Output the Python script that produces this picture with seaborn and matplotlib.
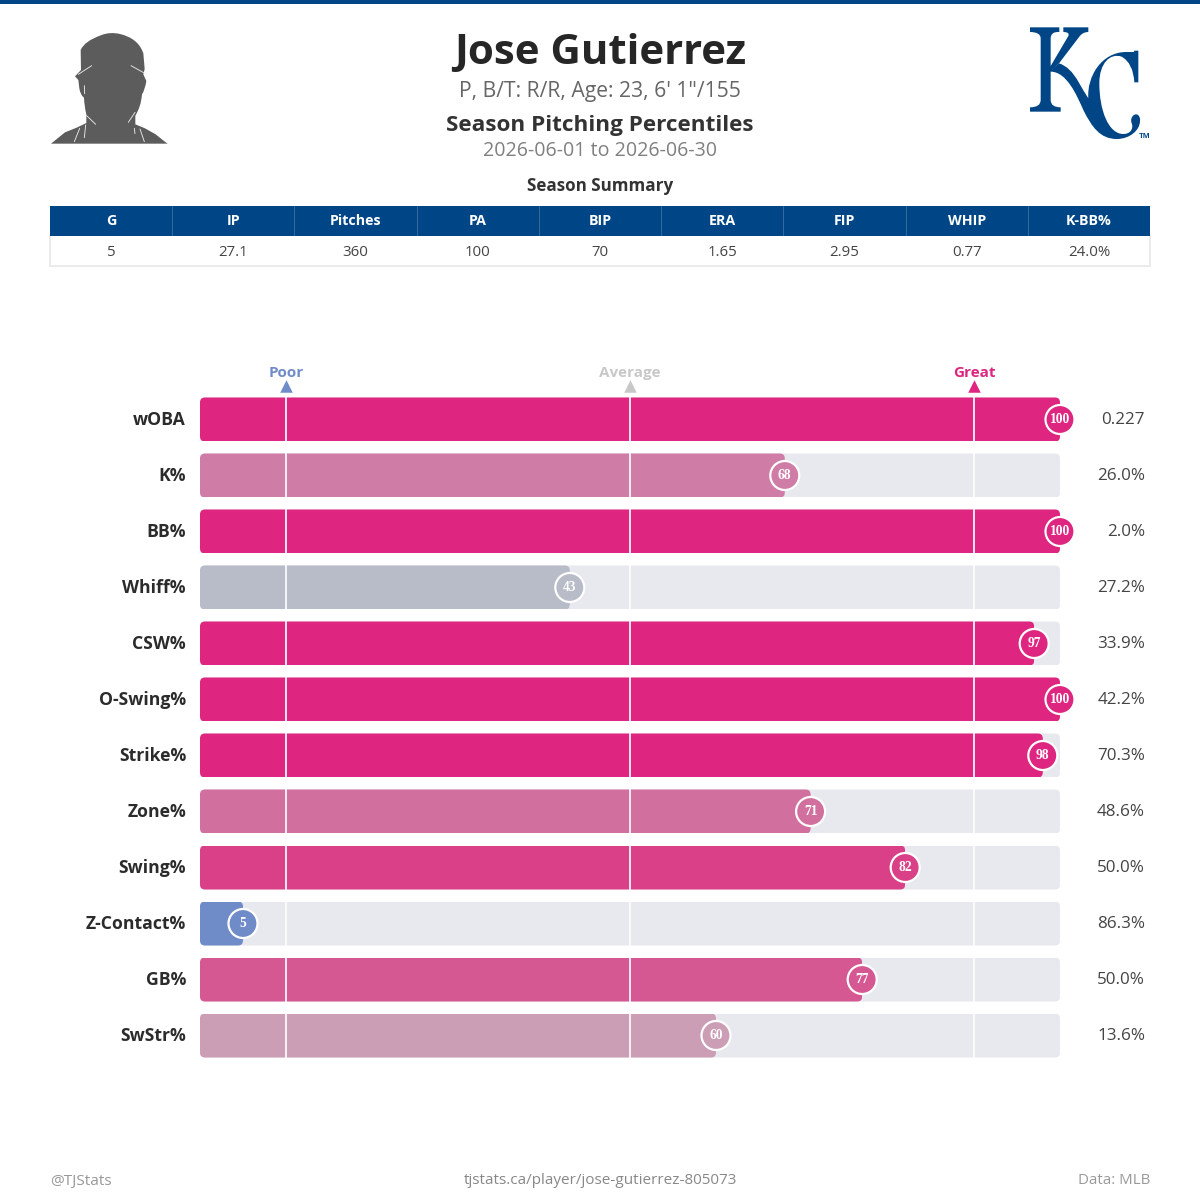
import matplotlib
matplotlib.use("Agg")
import matplotlib.pyplot as plt
import pandas as pd
import seaborn as sns
from matplotlib.patches import FancyBboxPatch, PathPatch, Rectangle
from matplotlib.path import Path
from matplotlib.transforms import IdentityTransform, ScaledTranslation

# Percentile rows
metrics = ["wOBA", "K%", "BB%", "Whiff%", "CSW%", "O-Swing%", "Strike%",
           "Zone%", "Swing%", "Z-Contact%", "GB%", "SwStr%"]
percentiles = [100, 68, 100, 43, 97, 100, 98, 71, 82, 5, 77, 60]
stat_values = ["0.227", "26.0%", "2.0%", "27.2%", "33.9%", "42.2%", "70.3%",
               "48.6%", "50.0%", "86.3%", "50.0%", "13.6%"]
bar_colors = ["#DE2680", "#CF7DA6", "#DE2680", "#B8BCC8", "#DE2680", "#DE2680",
              "#DE2680", "#D1709E", "#D94088", "#6F8CC8", "#D65893", "#CB9EB5"]

# Season summary table
summary_heads = ["G", "IP", "Pitches", "PA", "BIP", "ERA", "FIP", "WHIP", "K-BB%"]
summary_cells = ["5", "27.1", "360", "100", "70", "1.65", "2.95", "0.77", "24.0%"]

# Reference marks above the bars
guide_names = ["Poor", "Average", "Great"]
guide_levels = [10, 50, 90]
guide_colors = ["#6F8CC8", "#C8C8C8", "#DE2680"]

ROYAL = "#004687"
SANS = "Open Sans"
W = H = 1200


def px(size):
    return size * 0.72


sns.set_theme(style="white")
plt.rcParams["font.family"] = [SANS, "DejaVu Sans"]

fig = plt.figure(figsize=(12, 12), dpi=100, facecolor="white")

# Full-page layer in pixel units for header, table, logo and footer
page = fig.add_axes([0, 0, 1, 1], zorder=0)
page.set_xlim(0, W)
page.set_ylim(H, 0)
page.axis("off")

# Percentile axes: 0-100 spans the track, one category per 56 px row
top, row_h = 391.5, 56
ax = fig.add_axes([200 / W, 1 - (top + row_h * 12) / H, 860 / W, row_h * 12 / H], zorder=1)
ax.patch.set_alpha(0)

frame = pd.DataFrame({"metric": metrics, "pct": percentiles, "track": [100] * len(metrics)})
sns.barplot(data=frame, y="metric", x="track", color="#E8E9EF", width=44 / 56,
            saturation=1, ax=ax, zorder=1)
sns.barplot(data=frame, y="metric", x="pct", hue="metric", palette=bar_colors,
            width=44 / 56, saturation=1, legend=False, ax=ax, zorder=2)
ax.set_xlim(0, 100)
ax.set_ylim(len(metrics) - 0.5, -0.5)
ax.set_xlabel("")
ax.set_ylabel("")
ax.set_xticks([])
sns.despine(ax=ax, left=True, bottom=True)

# Round the corners of every bar
for bar in ax.patches:
    ext = bar.get_window_extent()
    clip = FancyBboxPatch((ext.x0, ext.y0), ext.width, ext.height,
                          boxstyle="round,pad=0,rounding_size=5",
                          transform=IdentityTransform())
    bar.set_edgecolor("none")
    bar.set_clip_path(clip)

ax.tick_params(axis="y", length=0, pad=px(14))
label_shift = ScaledTranslation(0, px(1.5) / 72, fig.dpi_scale_trans)
for tick in ax.get_yticklabels():
    tick.set(fontsize=px(17.6), fontweight="bold", color="#2B2B2B", family=SANS)
    tick.set_transform(tick.get_transform() + label_shift)

# White guides crossing all rows
for level in guide_levels:
    ax.plot([level, level], [-0.393, len(metrics) - 1 + 0.393], color="white",
            lw=px(2), alpha=0.85, zorder=3, solid_capstyle="butt")


def row_at(y_px):
    return (y_px - (top + row_h / 2)) / row_h


for name, level, col in zip(guide_names, guide_levels, guide_colors):
    ax.scatter([level], [row_at(385.8)], marker="^", s=px(12.5) ** 2, color=col,
               linewidths=0, clip_on=False, zorder=3)
    ax.text(level, row_at(373), name, color=col, fontsize=px(15.2), fontweight="bold",
            ha="center", va="center", clip_on=False)

# Percentile badges at the end of each bar
sns.scatterplot(data=frame, x="pct", y="metric", hue="metric", palette=bar_colors,
                s=px(29) ** 2, edgecolor="white", linewidth=px(2.2), legend=False,
                clip_on=False, ax=ax, zorder=4)
ax.set_xlabel("")
ax.set_ylabel("")
for i, pct in enumerate(percentiles):
    ax.text(pct, i, str(pct), color="white", fontsize=px(13.5), fontweight="bold",
            family="Liberation Serif", ha="center", va="center", zorder=5, clip_on=False)
    ax.annotate(stat_values[i], xy=(100, i), xytext=(px(85), px(-0.7)), textcoords="offset points",
                color="#444444", fontsize=px(17), ha="right", va="center", annotation_clip=False)

# Top stripe
page.add_patch(Rectangle((0, 0), W, 4, color=ROYAL, lw=0))

# Header text
page.text(600, 54, "Jose Gutierrez", fontsize=px(42), fontweight="bold", color="#262626",
          ha="center", va="center")
page.text(600, 92, "P, B/T: R/R, Age: 23, 6' 1\"/155", fontsize=px(21.2), color="#666666",
          ha="center", va="center")
page.text(600, 125, "Season Pitching Percentiles", fontsize=px(22.5), fontweight="bold",
          color="#333333", ha="center", va="center")
page.text(600, 151, "2026-06-01 to 2026-06-30", fontsize=px(19.6), color="#808080",
          ha="center", va="center")
page.text(600, 186, "Season Summary", fontsize=px(17), fontweight="bold", color="#333333",
          ha="center", va="center")

# Summary table
tx0, tx1 = 50, 1150
col_w = (tx1 - tx0) / len(summary_heads)
page.add_patch(Rectangle((tx0, 235), tx1 - tx0, 31, facecolor="white", edgecolor="#EBEBEB", lw=px(2)))
page.add_patch(Rectangle((tx0, 206), tx1 - tx0, 29.5, color=ROYAL, lw=0))
for i, (head, cell) in enumerate(zip(summary_heads, summary_cells)):
    cx = tx0 + col_w * (i + 0.5)
    page.text(cx, 221, head, color="white", fontsize=px(14.2), fontweight="bold",
              ha="center", va="center")
    page.text(cx, 252, cell, color="#444444", fontsize=px(15), ha="center", va="center")
    if i:
        page.plot([tx0 + col_w * i] * 2, [206, 235], color="#33699C", lw=px(1))


def zoom_path(ops, ox, oy):
    """Build a Path from outline commands given at 3x scale around an origin."""
    verts, codes = [], []
    lookup = {"M": [Path.MOVETO], "L": [Path.LINETO], "Q": [Path.CURVE3] * 2,
              "C": [Path.CURVE4] * 3}
    for op, *pts in ops:
        if op == "Z":
            verts.append((0, 0))
            codes.append(Path.CLOSEPOLY)
            continue
        codes += lookup[op]
        verts += [(ox + x / 3, oy + y / 3) for x, y in pts]
    return Path(verts, codes)


# Team logo: interlocking K and C
k_shape = [("M", (30, 22)), ("L", (118, 22)), ("L", (118, 36)), ("Q", (92, 34), (92, 55)),
           ("L", (92, 138)), ("L", (145, 48)), ("Q", (150, 36), (130, 36)), ("L", (130, 22)),
           ("L", (205, 22)), ("L", (205, 36)), ("Q", (188, 36), (178, 50)), ("L", (117, 130)),
           ("L", (92, 155)), ("L", (92, 240)), ("Q", (92, 262), (122, 262)), ("L", (122, 275)),
           ("L", (30, 275)), ("L", (30, 262)), ("Q", (62, 262), (62, 240)), ("L", (62, 55)),
           ("Q", (62, 36), (30, 36)), ("Z",)]
c_shape = [("M", (92, 152)), ("L", (117, 130)), ("Q", (150, 140), (175, 185)),
           ("Q", (190, 212), (205, 235)), ("C", (200, 170), (245, 95), (320, 96)),
           ("L", (340, 96)), ("Q", (343, 95), (343, 92)), ("L", (355, 92)), ("L", (355, 187)),
           ("L", (343, 187)), ("Q", (340, 130), (305, 110)),
           ("C", (270, 98), (238, 130), (238, 190)), ("C", (238, 270), (265, 342), (310, 342)),
           ("C", (330, 342), (340, 328), (336, 312)), ("C", (328, 296), (340, 282), (349, 283)),
           ("C", (358, 284), (361, 295), (360, 303)), ("C", (360, 330), (330, 357), (290, 357)),
           ("C", (240, 357), (215, 320), (190, 270)), ("C", (170, 225), (140, 155), (92, 155)),
           ("Z",)]
for shape in (k_shape, c_shape):
    page.add_patch(PathPatch(zoom_path(shape, 1020, 20), facecolor=ROYAL, edgecolor="none"))
page.text(1144.5, 136.5, "TM", color=ROYAL, fontsize=px(8), fontweight="bold",
          family="Liberation Sans", ha="center", va="center")

# Player silhouette
head_shape = [("M", (18, 356)), ("L", (60, 322)), ("L", (95, 308)), ("L", (124, 294)),
              ("L", (124, 268)), ("Q", (118, 245), (117, 218)), ("Q", (106, 210), (103, 190)),
              ("L", (100, 165)), ("L", (90, 154)), ("L", (108, 135)), ("L", (107, 75)),
              ("Q", (118, 48), (170, 30)), ("Q", (195, 20), (225, 27)), ("Q", (280, 40), (295, 85)),
              ("L", (299, 132)), ("L", (295, 148)), ("L", (304, 168)), ("Q", (300, 195), (291, 208)),
              ("Q", (288, 245), (271, 272)), ("L", (271, 298)), ("L", (300, 310)), ("L", (332, 328)),
              ("L", (362, 352)), ("L", (368, 356)), ("Z",)]
page.add_patch(PathPatch(zoom_path(head_shape, 45, 25), facecolor="#5C5C5C", edgecolor="none"))
highlights = [[(100, 148), (140, 122)], [(258, 122), (296, 143)], [(118, 182), (119, 206)],
              [(125, 272), (152, 298)], [(270, 262), (250, 292)], [(122, 300), (118, 338)],
              [(104, 310), (88, 350)], [(268, 310), (270, 326)], [(285, 312), (298, 350)]]
for seg in highlights:
    xs = [45 + p[0] / 3 for p in seg]
    ys = [25 + p[1] / 3 for p in seg]
    page.plot(xs, ys, color="#E8E8E8", lw=px(0.9))

# Footer
page.text(50, 1181.5, "@TJStats", fontsize=px(15.4), color="#999999", ha="left", va="center")
page.text(600, 1180, "tjstats.ca/player/jose-gutierrez-805073", fontsize=px(15.2), color="#888888",
          ha="center", va="center")
page.text(1150, 1180, "Data: MLB", fontsize=px(15), color="#999999", ha="right", va="center")

fig.savefig("out.png", dpi=100, facecolor="white")
